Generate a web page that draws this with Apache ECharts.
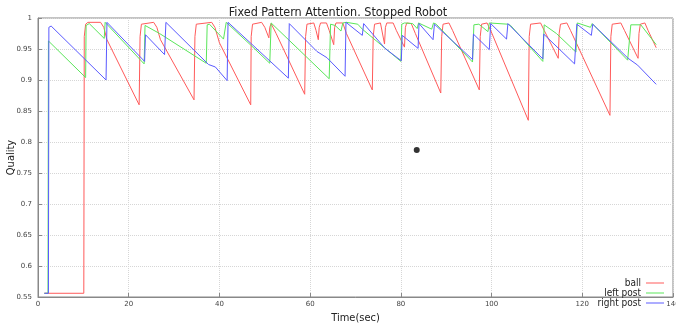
<!DOCTYPE html>
<html>
<head>
<meta charset="utf-8">
<script src="https://cdn.jsdelivr.net/npm/echarts@6/dist/echarts.min.js"></script>
<style>
  html, body {margin: 0; padding: 0; background: #fff;}
  #chart {width: 676px; height: 331px;}
</style>
</head>
<body>
<div id="chart"></div>
<script>
// quality of each landmark over time as [time, quality]
const ball = [
  [1.4, 0.556], [10.1, 0.556], [10.2, 0.97], [10.5, 0.99], [11, 0.993], [13.8, 0.993], [14.5, 0.985], [15.2, 0.965],
  [22.3, 0.86], [22.5, 0.97], [22.8, 0.99], [23.2, 0.993], [25.5, 0.993], [26.2, 0.985], [27, 0.965],
  [34.4, 0.868], [34.6, 0.97], [34.9, 0.99], [35.3, 0.993], [38.3, 0.993], [39, 0.985], [40, 0.96],
  [46.9, 0.86], [47, 0.97], [47.3, 0.99], [47.7, 0.993], [49.3, 0.993], [50, 0.985], [50.9, 0.968],
  [51.1, 0.985], [51.4, 0.991], [51.8, 0.99], [52.5, 0.975],
  [58.8, 0.877], [59, 0.97], [59.3, 0.99], [59.7, 0.993], [60.8, 0.992], [61.3, 0.98], [61.8, 0.965],
  [62, 0.985], [62.3, 0.992], [63.6, 0.992], [64.2, 0.98], [65.2, 0.957],
  [65.4, 0.985], [65.7, 0.992], [67.2, 0.992], [68, 0.975],
  [73.7, 0.884], [73.9, 0.97], [74.2, 0.99], [74.6, 0.993], [75.5, 0.992], [76.4, 0.958],
  [76.6, 0.985], [76.9, 0.992], [78.3, 0.992], [79, 0.98], [80.8, 0.953],
  [81, 0.985], [81.3, 0.992], [82.3, 0.991], [83.2, 0.975],
  [88.8, 0.879], [89, 0.97], [89.3, 0.99], [89.7, 0.993], [90.6, 0.992], [91.4, 0.98],
  [97.3, 0.884], [97.5, 0.97], [97.8, 0.99], [98.2, 0.993], [99, 0.992], [99.8, 0.98],
  [108.1, 0.835], [108.3, 0.97], [108.6, 0.99], [109, 0.993], [110.8, 0.992], [111.6, 0.98],
  [114.7, 0.935], [114.9, 0.975], [115.2, 0.99], [115.6, 0.993], [116.6, 0.992], [117.4, 0.98],
  [126.1, 0.843], [126.3, 0.97], [126.6, 0.99], [127, 0.993], [128.5, 0.992], [129.3, 0.98],
  [132.3, 0.935], [132.5, 0.975], [132.8, 0.99], [133.2, 0.993], [133.8, 0.992], [134.5, 0.98],
  [136.3, 0.952]
]

const leftPost = [
  [1.4, 0.556], [2.2, 0.556], [2.3, 0.963], [2.5, 0.964], [10.5, 0.904], [10.6, 0.988], [11.3, 0.991],
  [14.6, 0.967], [14.8, 0.993], [23.4, 0.926], [23.6, 0.988], [26.8, 0.975], [37.1, 0.927],
  [37.3, 0.989], [37.8, 0.99], [40.9, 0.966], [41.5, 0.993], [46.8, 0.957], [51.1, 0.927],
  [51.4, 0.992], [64.2, 0.902], [64.5, 0.99], [65.5, 0.988], [66.8, 0.979], [67.2, 0.992],
  [68, 0.993], [70.5, 0.99], [71.5, 0.982], [80, 0.93], [80.2, 0.99], [80.8, 0.992],
  [82.6, 0.991], [83.6, 0.983], [83.9, 0.992], [86.8, 0.982], [87.2, 0.992], [87.8, 0.99],
  [95.8, 0.929], [96.1, 0.989], [97.2, 0.99], [99.2, 0.978], [99.5, 0.992], [103.6, 0.99],
  [104.2, 0.988], [111.3, 0.93], [111.6, 0.989], [114.3, 0.975], [118.6, 0.945], [118.9, 0.992],
  [121.8, 0.985], [122.2, 0.991], [130, 0.932], [130.7, 0.989], [132.9, 0.989], [136.3, 0.957]
]

const rightPost = [
  [1.4, 0.556], [2.3, 0.556], [2.4, 0.985], [2.9, 0.987], [15, 0.9], [15.2, 0.993], [23.5, 0.93],
  [23.7, 0.973], [27.9, 0.941], [28.2, 0.993], [37.6, 0.925], [39.1, 0.921], [41.7, 0.899],
  [41.9, 0.993], [46.8, 0.96], [55.2, 0.903], [55.4, 0.991], [61.5, 0.946], [63.7, 0.936],
  [67.7, 0.906], [67.9, 0.993], [71.5, 0.972], [71.8, 0.991], [76.5, 0.951], [80.1, 0.931],
  [80.3, 0.972], [83.8, 0.951], [84, 0.991], [87.1, 0.965], [87.4, 0.99], [95.8, 0.933],
  [96, 0.974], [99.5, 0.949], [99.8, 0.991], [103.3, 0.966], [103.6, 0.991], [111.3, 0.934],
  [111.5, 0.974], [118.3, 0.926], [118.8, 0.99], [122, 0.972], [122.3, 0.99], [130.1, 0.935],
  [132.2, 0.924], [136.3, 0.893]
]

const robotMark = [[83.5, 0.787]]

const seriesNames = ['ball', 'left post', 'right post']
const seriesColors = ['#ff5a5a', '#5ae65a', '#5a5aff']

const narrow = "'Liberation Sans Narrow', 'DejaVu Sans Condensed', 'Liberation Sans', sans-serif"
const small = "'DejaVu Sans', sans-serif"

const chart = echarts.init(document.getElementById('chart'))

const line = (name, data, i) => ({
  name,
  type: 'line',
  data,
  showSymbol: false,
  symbol: 'none',
  color: seriesColors[i],
  lineStyle: {width: 1, color: seriesColors[i]},
  animation: false
})

chart.setOption({
  backgroundColor: '#fff',
  animation: false,
  title: {
    text: 'Fixed Pattern Attention. Stopped Robot',
    left: 'center',
    top: 1,
    textStyle: {fontFamily: narrow, fontSize: 12.5, fontWeight: 'normal', color: '#222'}
  },
  grid: {
    left: 38, right: 3, top: 18, bottom: 34,
    outerBoundsMode: 'none', containLabel: false,
    show: true, borderColor: '#888', borderWidth: 1
  },
  legend: {
    data: seriesNames,
    orient: 'vertical',
    align: 'right',
    right: 7,
    top: 273,
    itemGap: 0,
    itemWidth: 18,
    itemHeight: 1,
    icon: 'rect',
    textStyle: {fontFamily: narrow, fontSize: 10, lineHeight: 8, color: '#222'}
  },
  xAxis: {
    type: 'value',
    min: 0,
    max: 140,
    interval: 20,
    name: 'Time(sec)',
    nameLocation: 'middle',
    nameGap: 15,
    nameTextStyle: {fontFamily: narrow, fontSize: 11, color: '#222'},
    axisLine: {lineStyle: {color: '#888'}},
    axisTick: {inside: true, length: 4, lineStyle: {color: '#888'}},
    axisLabel: {fontFamily: small, fontSize: 7, color: '#444', margin: 4},
    splitLine: {lineStyle: {color: '#d6d6d6', type: 'dotted'}}
  },
  yAxis: {
    type: 'value',
    min: 0.55,
    max: 1,
    interval: 0.05,
    name: 'Quality',
    nameLocation: 'middle',
    nameGap: 21,
    nameMoveOverlap: false,
    nameTextStyle: {fontFamily: narrow, fontSize: 11, color: '#222'},
    axisLine: {lineStyle: {color: '#888'}},
    axisTick: {inside: true, length: 4, lineStyle: {color: '#888'}},
    axisLabel: {fontFamily: small, fontSize: 7, color: '#444', margin: 6, formatter: v => String(+v.toFixed(2))},
    splitLine: {lineStyle: {color: '#d6d6d6', type: 'dotted'}}
  },
  series: [
    line(seriesNames[0], ball, 0),
    line(seriesNames[1], leftPost, 1),
    line(seriesNames[2], rightPost, 2),
    {
      name: 'robot',
      type: 'scatter',
      data: robotMark,
      symbolSize: 6,
      itemStyle: {color: '#000'},
      z: 5
    }
  ]
})
</script>
</body>
</html>
